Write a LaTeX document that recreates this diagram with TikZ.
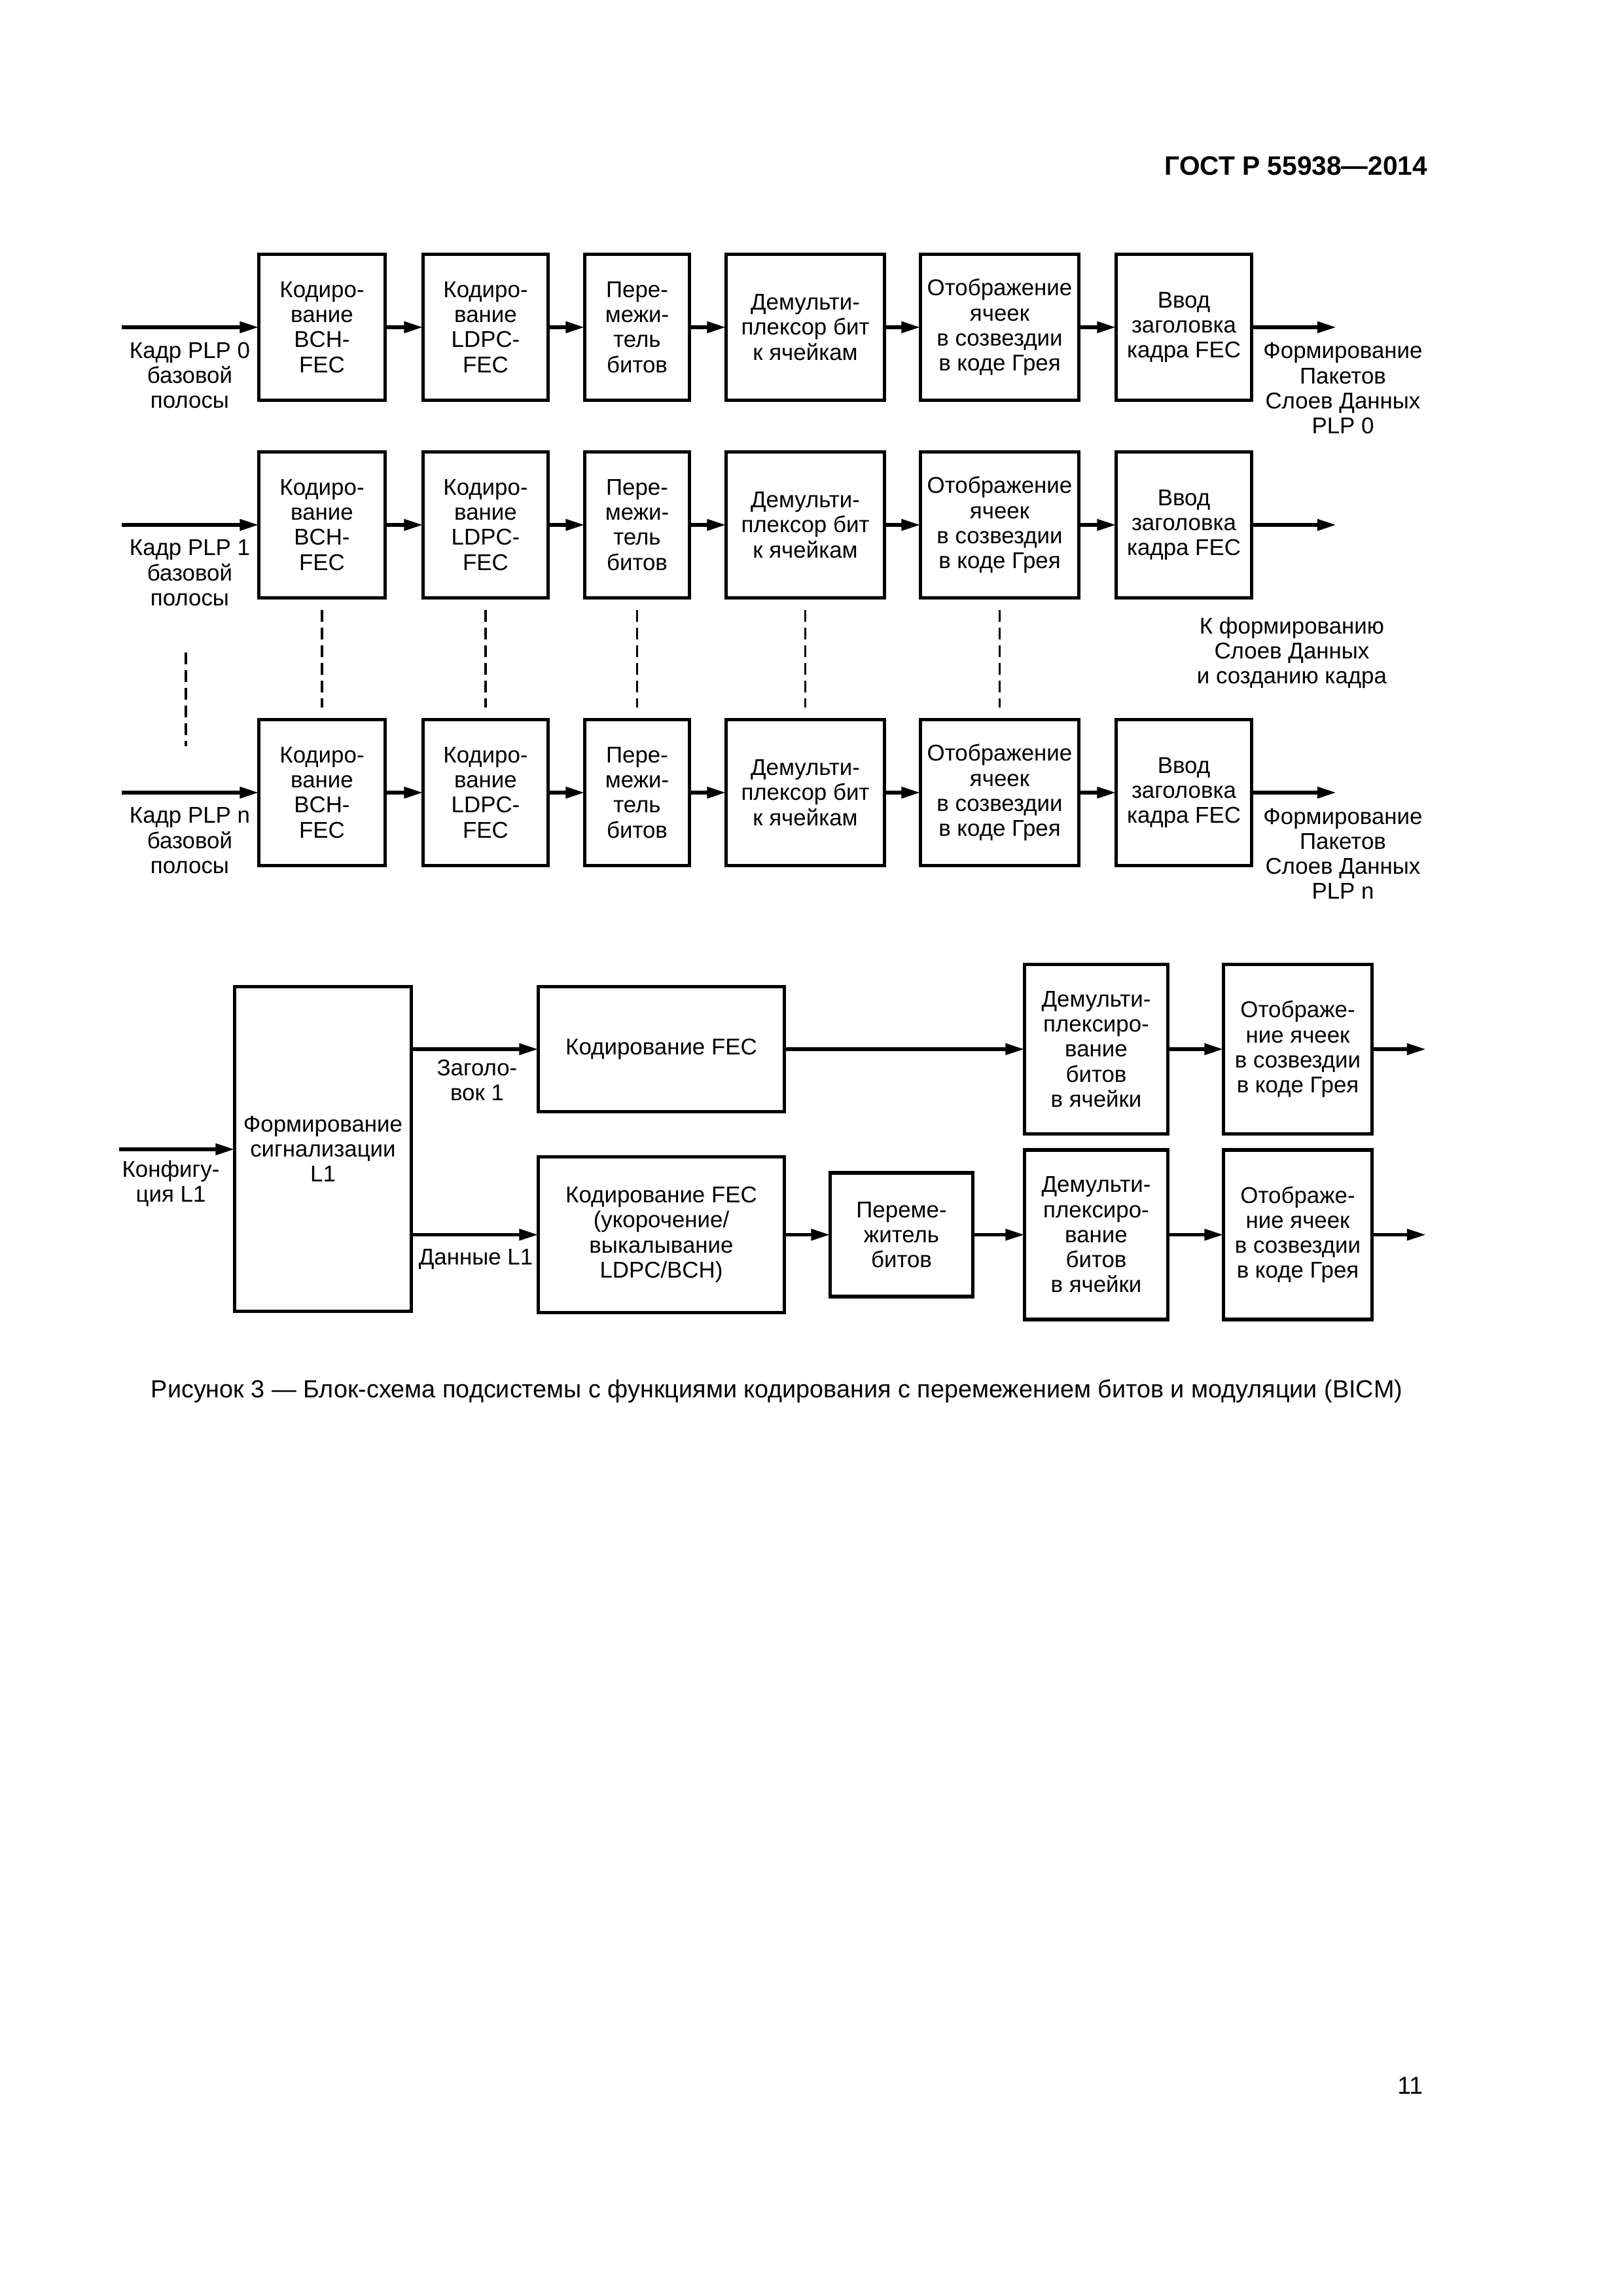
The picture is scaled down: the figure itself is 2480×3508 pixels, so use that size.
\documentclass[tikz,border=0pt]{standalone}
\usepackage{fontspec}
\setmainfont{Liberation Sans}
\usetikzlibrary{arrows.meta}

\newcommand{\pxl}{0.084667mm}
\newcommand{\texto}{\fontsize{8.4}{9.2}\selectfont}

\begin{document}
\begin{tikzpicture}[x=0.084667mm,y=-0.084667mm]

% estilos de linea y bloques
\tikzstyle{bloque}  = [draw=black,line width=1.35pt,align=center,inner sep=0pt,outer sep=0pt,font=\texto]
\tikzstyle{flecha}  = [line width=1.35pt,-{Triangle[length=7pt,width=4pt]}]
\tikzstyle{rotulo}  = [align=center,inner sep=0pt,font=\texto,anchor=north]
\tikzstyle{discont} = [line width=0.95pt,dash pattern=on 4.3pt off 2.2pt]
\tikzset{caja/.style 2 args={minimum width=#1*\pxl,minimum height=#2*\pxl}}

% cadena de una PLP
% #1: sufijo de los nodos
% #2: ordenada del centro de los bloques
% #3: numero de la PLP
\newcommand{\cadenaplp}[3]{
	\node[bloque,caja={193}{223}] (bch#1) at (492,#2) {Кодиро-\\вание\\BCH-\\FEC};
	\node[bloque,caja={191}{223}] (ldpc#1) at (742,#2) {Кодиро-\\вание\\LDPC-\\FEC};
	\node[bloque,caja={160}{223}] (intl#1) at (973.5,#2) {Пере-\\межи-\\тель\\битов};
	\node[bloque,caja={242}{223}] (demux#1) at (1230.5,#2) {Демульти-\\плексор бит\\к ячейкам};
	\node[bloque,caja={242}{223}] (map#1) at (1527.5,#2) {Отображение\\ячеек\\в созвездии\\в коде Грея};
	\node[bloque,caja={207}{223}] (cab#1) at (1809,#2) {Ввод\\заголовка\\кадра FEC};
	\node[rotulo] (plp#1) at (290,#2+22) {Кадр PLP #3\\базовой\\полосы};
	\coordinate (in#1) at (186,#2);
	\coordinate (out#1) at (2042,#2);
	\draw[flecha] (in#1) -- (bch#1);
	\draw[flecha] (bch#1) -- (ldpc#1);
	\draw[flecha] (ldpc#1) -- (intl#1);
	\draw[flecha] (intl#1) -- (demux#1);
	\draw[flecha] (demux#1) -- (map#1);
	\draw[flecha] (map#1) -- (cab#1);
	\draw[flecha] (cab#1) -- (out#1);
}

% pagina
\fill[white] (0,0) rectangle (2480,3508);
\useasboundingbox (0,0) rectangle (2480,3508);
\node[anchor=base east,inner sep=0pt,font=\fontsize{9.8}{11}\selectfont\bfseries] (gost) at (2182,267) {ГОСТ Р 55938—2014};

% cadenas PLP 0, PLP 1, PLP n
\cadenaplp{0}{500}{0}
\cadenaplp{1}{802}{1}
\cadenaplp{2}{1211}{n}

\node[rotulo] (form0) at (2052,523) {Формирование\\Пакетов\\Слоев Данных\\PLP 0};
\node[rotulo] (form2) at (2052,1234) {Формирование\\Пакетов\\Слоев Данных\\PLP n};
\node[rotulo] (kform) at (1974,942) {К формированию\\Слоев Данных\\и созданию кадра};

% lineas discontinuas
\foreach \b in {bch,ldpc,intl,demux,map}
	\draw[discont,shorten <=1.6mm,shorten >=1.6mm] (\b1.south) -- (\b2.north);
\coordinate (puntA) at (284,997);
\coordinate (puntB) at (284,1140);
\draw[discont] (puntA) -- (puntB);

% senalizacion L1
\node[bloque,caja={270}{496}] (sen) at (493.5,1755.5) {Формирование\\сигнализации\\L1};
\node[bloque,caja={376}{191}] (fecA) at (1010.5,1603) {Кодирование FEC};
\node[bloque,caja={376}{238}] (fecB) at (1010.5,1886.5) {Кодирование FEC\\(укорочение/\\выкалывание\\LDPC/BCH)};
\node[bloque,caja={218}{189}] (inter) at (1377.5,1886.5) {Переме-\\житель\\битов};
\node[bloque,caja={219}{259}] (demA) at (1675,1603) {Демульти-\\плексиро-\\вание\\битов\\в ячейки};
\node[bloque,caja={219}{259}] (demB) at (1675,1886.5) {Демульти-\\плексиро-\\вание\\битов\\в ячейки};
\node[bloque,caja={227}{259}] (mapA) at (1983,1603) {Отображе-\\ние ячеек\\в созвездии\\в коде Грея};
\node[bloque,caja={227}{259}] (mapB) at (1983,1886.5) {Отображе-\\ние ячеек\\в созвездии\\в коде Грея};

\node[rotulo] (conf) at (261,1772) {Конфигу-\\ция L1};
\node[rotulo] (zag) at (729,1618) {Заголо-\\вок 1};
\node[rotulo] (dan) at (727,1908) {Данные L1};

\coordinate (confin) at (182,1756);
\coordinate (outA) at (2179,1603);
\coordinate (outB) at (2179,1886.5);
\draw[flecha] (confin) -- (confin -| sen.west);
\draw[flecha] (sen.east |- fecA) -- (fecA);
\draw[flecha] (sen.east |- fecB) -- (fecB);
\draw[flecha] (fecA) -- (demA);
\draw[flecha] (demA) -- (mapA);
\draw[flecha] (mapA) -- (outA);
\draw[flecha] (fecB) -- (inter);
\draw[flecha] (inter) -- (demB);
\draw[flecha] (demB) -- (mapB);
\draw[flecha] (mapB) -- (outB);

% pie de figura y numero de pagina
\node[anchor=base west,inner sep=0pt,font=\fontsize{9.1}{11}\selectfont] (titulo) at (230,2135) {Рисунок 3 — Блок-схема подсистемы с функциями кодирования с перемежением битов и модуляции (BICM)};
\node[anchor=base east,inner sep=0pt,font=\fontsize{9}{11}\selectfont] (pagina) at (2175,3199) {11};

\end{tikzpicture}
\end{document}
